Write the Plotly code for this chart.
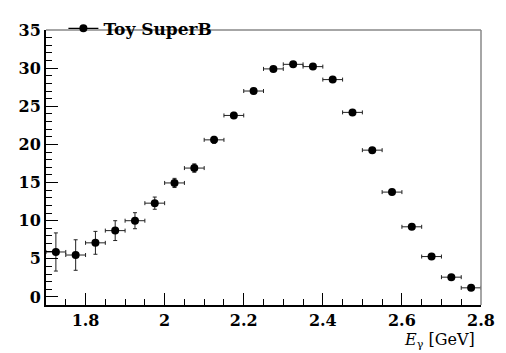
import plotly.graph_objects as go

# Photon energy spectrum, bins of 0.05 GeV
e_gamma = [1.725, 1.775, 1.825, 1.875, 1.925, 1.975, 2.025, 2.075, 2.125, 2.175, 2.225,
           2.275, 2.325, 2.375, 2.425, 2.475, 2.525, 2.575, 2.625, 2.675, 2.725, 2.775]
counts = [5.9, 5.5, 7.1, 8.7, 10.0, 12.3, 14.95, 16.9, 20.6, 23.8, 27.0,
          29.9, 30.5, 30.2, 28.5, 24.2, 19.25, 13.75, 9.2, 5.3, 2.6, 1.2]
count_err = [2.5, 2.0, 1.5, 1.3, 1.05, 0.8, 0.6, 0.55, 0.45, 0.4, 0.35,
             0.3, 0.3, 0.3, 0.3, 0.3, 0.3, 0.3, 0.3, 0.3, 0.3, 0.3]
bin_half_width = 0.025

serif = "DejaVu Serif"
clear = "rgba(0,0,0,0)"

fig = go.Figure()

fig.add_trace(go.Scatter(
    x=e_gamma, y=counts, mode="markers", showlegend=False,
    marker=dict(color="black", size=8),
    error_y=dict(type="data", array=count_err, color="#222", thickness=1, width=2),
    error_x=dict(type="constant", value=bin_half_width, color="#222", thickness=1, width=2),
))

# legend entry: marker with line
fig.add_trace(go.Scatter(
    x=[None], y=[None], mode="lines+markers", name="Toy SuperB",
    marker=dict(color="black", size=8), line=dict(color="black", width=1.2),
))

# grey frame on the top and right sides
fig.add_shape(type="line", xref="paper", yref="paper", x0=0, y0=1, x1=1, y1=1,
              line=dict(color="#888", width=1.5))
fig.add_shape(type="line", xref="paper", yref="paper", x0=1, y0=0, x1=1, y1=1,
              line=dict(color="#888", width=1.5))

axis_common = dict(
    ticks="inside", ticklen=12, tickcolor="black",
    showline=True, linecolor="black", linewidth=2,
    showgrid=False, zeroline=False,
    tickfont=dict(family=serif, size=16, weight="bold"),
    minor=dict(ticks="inside", ticklen=6, tickcolor="black", showgrid=False),
)

fig.update_layout(
    width=506, height=353,
    margin=dict(l=46, r=17, t=11, b=48),
    paper_bgcolor="white", plot_bgcolor="white",
    font=dict(family=serif, color="black"),
    legend=dict(x=0.04, y=1.07, xanchor="left", yanchor="top",
                font=dict(family=serif, size=17, weight="bold"),
                bgcolor=clear),
    xaxis=dict(range=[1.7, 2.8], tickmode="linear", tick0=1.8, dtick=0.2, **axis_common),
    yaxis=dict(range=[-1.05, 35], tickmode="linear", tick0=0, dtick=5, **axis_common),
    annotations=[dict(
        text="<i>E</i><sub>γ</sub> [GeV]", xref="paper", yref="paper",
        x=0.99, y=-0.083, xanchor="right", yanchor="top", showarrow=False,
        font=dict(family=serif, size=16, color="black"),
    )],
)

fig.write_html("out.html")
